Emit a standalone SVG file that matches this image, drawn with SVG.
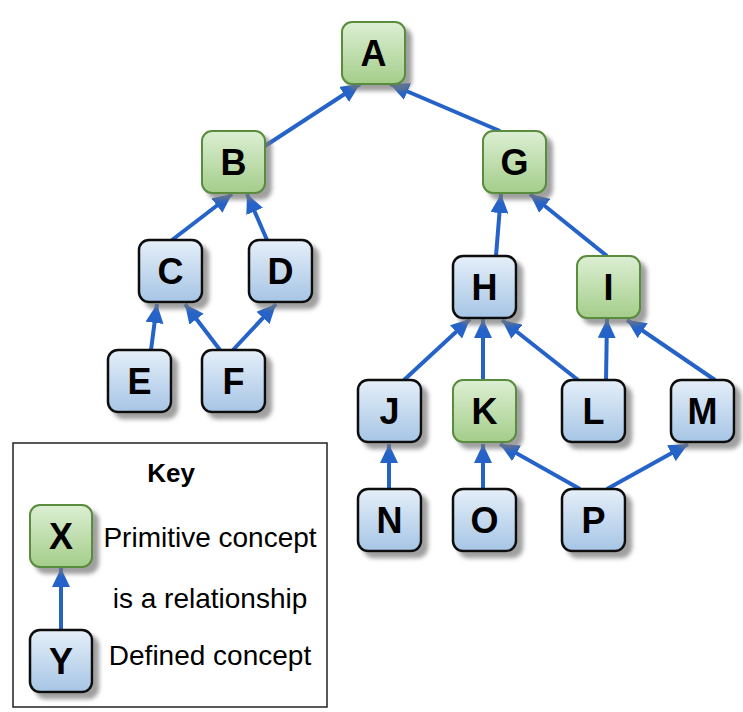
<svg xmlns="http://www.w3.org/2000/svg" width="743" height="712" viewBox="0 0 743 712">
<defs>
<linearGradient id="gGreen" x1="0" y1="0" x2="0" y2="1">
<stop offset="0" stop-color="#dcefd3"/>
<stop offset="1" stop-color="#a4cd8a"/>
</linearGradient>
<linearGradient id="gBlue" x1="0" y1="0" x2="0" y2="1">
<stop offset="0" stop-color="#e5eff9"/>
<stop offset="1" stop-color="#a6c5e5"/>
</linearGradient>
<filter id="shadow" x="-20%" y="-20%" width="150%" height="150%">
<feDropShadow dx="6" dy="6" stdDeviation="2" flood-color="#777" flood-opacity="0.7"/>
</filter>
<marker id="arrow" markerUnits="userSpaceOnUse" markerWidth="20" markerHeight="18" refX="19" refY="9" orient="auto" viewBox="0 0 20 18">
<path d="M0,0 L19,9 L0,18 z" fill="#2563c9"/>
</marker>
<style>
.prim rect{fill:url(#gGreen);stroke:#5a8c3d;stroke-width:2;filter:url(#shadow)}
.def rect{fill:url(#gBlue);stroke:#111;stroke-width:2.5;filter:url(#shadow)}
.lbl{font-family:"Liberation Sans",Arial,sans-serif;font-weight:bold;font-size:36px;text-anchor:middle;fill:#000}
.edge{stroke:#2563c9;stroke-width:4;fill:none;marker-end:url(#arrow)}
.key{font-family:"Liberation Sans",Arial,sans-serif;font-size:28px;text-anchor:middle;fill:#000}
</style>
</defs>
<rect width="743" height="712" fill="#fff"/>
<g id="key">
<rect x="13" y="443" width="314" height="264" fill="#fff" stroke="#222" stroke-width="1.5"/>
<text x="171" y="482" class="key" style="font-weight:bold;font-size:26px">Key</text>
<text x="210" y="547" class="key">Primitive concept</text>
<text x="210" y="608" class="key">is a relationship</text>
<text x="210" y="665" class="key">Defined concept</text>
</g>
<g id="connectors">
<line class="edge" x1="265" y1="146" x2="360" y2="84"/>
<line class="edge" x1="500" y1="131" x2="390" y2="84"/>
<line class="edge" x1="172" y1="240" x2="232" y2="194"/>
<line class="edge" x1="267" y1="240" x2="247" y2="194"/>
<line class="edge" x1="151" y1="350" x2="157" y2="304"/>
<line class="edge" x1="220" y1="350" x2="185" y2="304"/>
<line class="edge" x1="233" y1="350" x2="276" y2="304"/>
<line class="edge" x1="496" y1="256" x2="501" y2="194"/>
<line class="edge" x1="607" y1="256" x2="530" y2="194"/>
<line class="edge" x1="404" y1="380" x2="470" y2="319"/>
<line class="edge" x1="483" y1="380" x2="483" y2="319"/>
<line class="edge" x1="578" y1="380" x2="502" y2="320"/>
<line class="edge" x1="606" y1="380" x2="607" y2="319"/>
<line class="edge" x1="715" y1="380" x2="627" y2="320"/>
<line class="edge" x1="389" y1="489" x2="389" y2="444"/>
<line class="edge" x1="483" y1="489" x2="483" y2="444"/>
<line class="edge" x1="580" y1="489" x2="500" y2="444"/>
<line class="edge" x1="607" y1="489" x2="688" y2="444"/>
<line class="edge" x1="61" y1="630" x2="61" y2="568"/>
</g>
<g id="node-A" class="prim"><rect x="342" y="22" width="63" height="62" rx="10"/><text class="lbl" x="373.5" y="66">A</text></g>
<g id="node-B" class="prim"><rect x="202" y="131" width="63" height="62" rx="10"/><text class="lbl" x="233.5" y="175">B</text></g>
<g id="node-G" class="prim"><rect x="483" y="131" width="63" height="62" rx="10"/><text class="lbl" x="514.5" y="175">G</text></g>
<g id="node-C" class="def"><rect x="139" y="240" width="63" height="62" rx="10"/><text class="lbl" x="170.5" y="284">C</text></g>
<g id="node-D" class="def"><rect x="249" y="240" width="63" height="62" rx="10"/><text class="lbl" x="280.5" y="284">D</text></g>
<g id="node-E" class="def"><rect x="108" y="350" width="63" height="62" rx="10"/><text class="lbl" x="139.5" y="394">E</text></g>
<g id="node-F" class="def"><rect x="202" y="350" width="63" height="62" rx="10"/><text class="lbl" x="233.5" y="394">F</text></g>
<g id="node-H" class="def"><rect x="453" y="256" width="63" height="62" rx="10"/><text class="lbl" x="484.5" y="300">H</text></g>
<g id="node-I" class="prim"><rect x="577" y="256" width="63" height="62" rx="10"/><text class="lbl" x="608.5" y="300">I</text></g>
<g id="node-J" class="def"><rect x="358" y="380" width="63" height="62" rx="10"/><text class="lbl" x="389.5" y="424">J</text></g>
<g id="node-K" class="prim"><rect x="453" y="380" width="63" height="62" rx="10"/><text class="lbl" x="484.5" y="424">K</text></g>
<g id="node-L" class="def"><rect x="562" y="380" width="63" height="62" rx="10"/><text class="lbl" x="593.5" y="424">L</text></g>
<g id="node-M" class="def"><rect x="671" y="380" width="63" height="62" rx="10"/><text class="lbl" x="702.5" y="424">M</text></g>
<g id="node-N" class="def"><rect x="358" y="489" width="63" height="62" rx="10"/><text class="lbl" x="389.5" y="533">N</text></g>
<g id="node-O" class="def"><rect x="453" y="489" width="63" height="62" rx="10"/><text class="lbl" x="484.5" y="533">O</text></g>
<g id="node-P" class="def"><rect x="562" y="489" width="63" height="62" rx="10"/><text class="lbl" x="593.5" y="533">P</text></g>
<g id="node-X" class="prim"><rect x="30" y="505" width="62" height="62" rx="10"/><text class="lbl" x="61" y="549">X</text></g>
<g id="node-Y" class="def"><rect x="30" y="630" width="62" height="62" rx="10"/><text class="lbl" x="61" y="674">Y</text></g>
</svg>
